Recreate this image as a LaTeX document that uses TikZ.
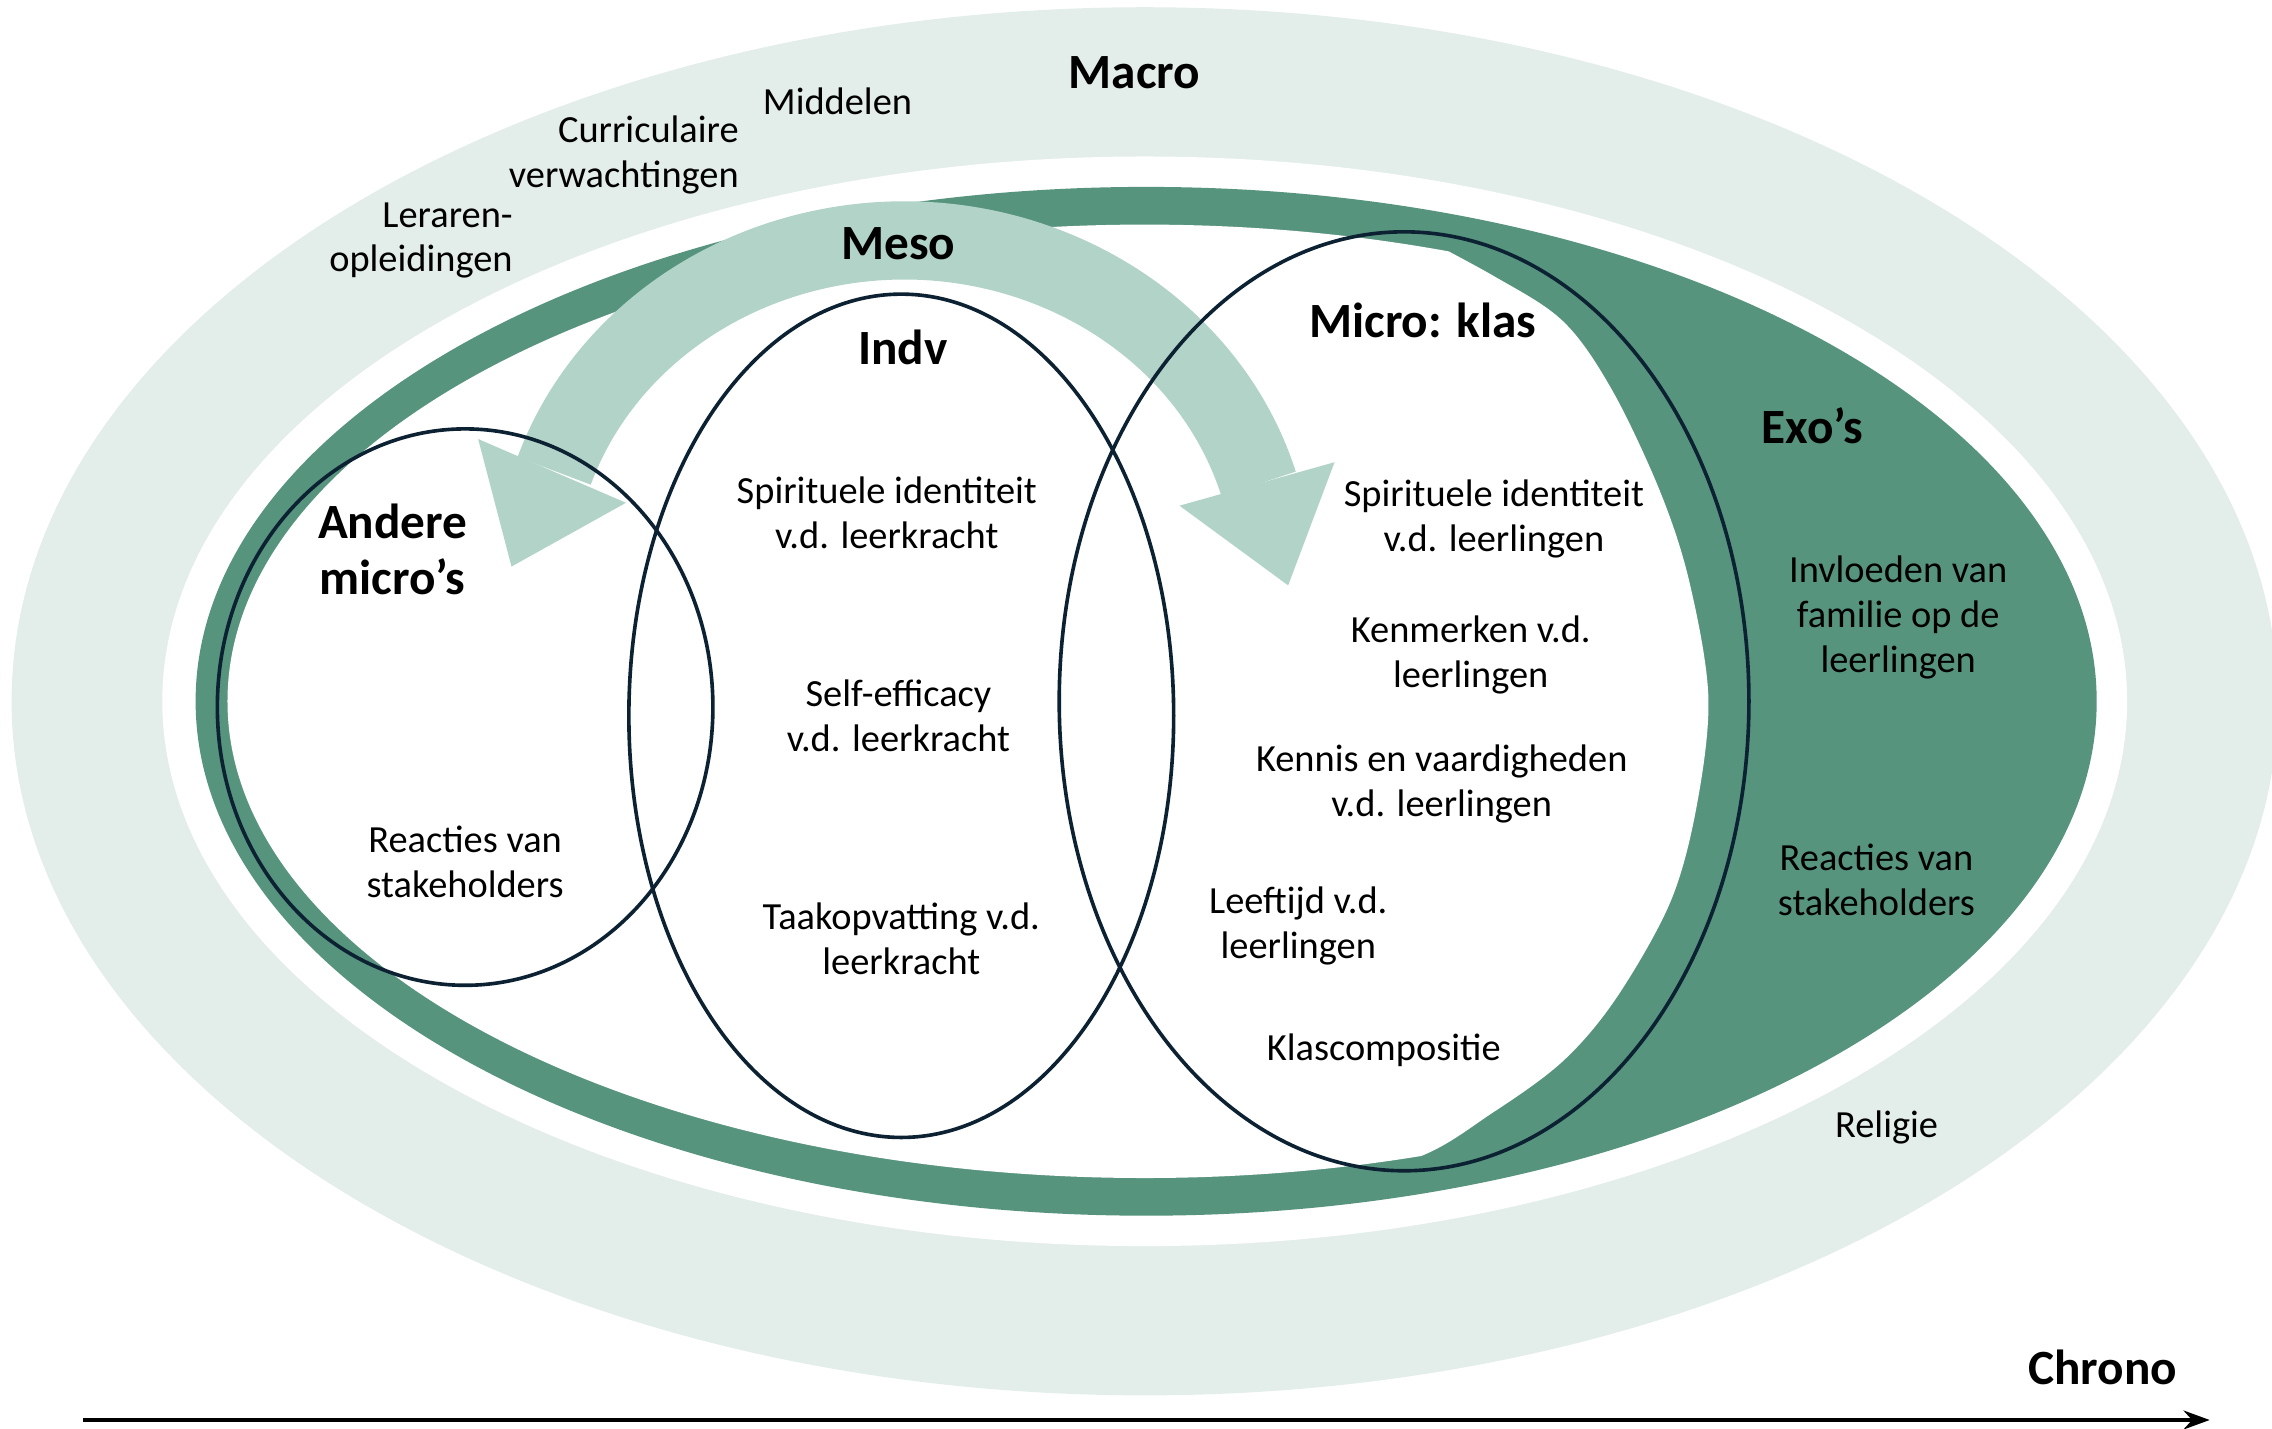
\documentclass[tikz,border=0pt]{standalone}
\usepackage{fontspec}
\setmainfont{Carlito}
\usetikzlibrary{arrows.meta}
\definecolor{macrogreen}{RGB}{227,237,233}
\definecolor{mesogreen}{RGB}{178,211,200}
\definecolor{exogreen}{RGB}{87,148,126}
\definecolor{linenavy}{RGB}{12,34,51}

\begin{document}
\begin{tikzpicture}[
                x=1pt, y=1pt,
                outlineellipse/.style={draw=linenavy, line width=2.5pt},
                plaintextnode/.style={align=center, inner sep=0pt, font=\fontsize{26.5}{31}\selectfont},
                boldtextnode/.style={align=center, inner sep=0pt, font=\bfseries\fontsize{34}{39}\selectfont}
                ]
                \useasboundingbox (0,0) rectangle (1568,986);

                %% Rings
                \fill[macrogreen] (790,502) ellipse [x radius=782pt, y radius=479pt];
                \fill[white] (790,502) ellipse [x radius=678pt, y radius=376pt];
                \fill[exogreen] (791,502) ellipse [x radius=656pt, y radius=355pt];
                \begin{scope}
                        \clip (0,0) -- (0,986) -- (955,986) -- plot[smooth, tension=0.55] coordinates {(955,836) (1030,796) (1079,764) (1113,716) (1146,646) (1166,584) (1179,505) (1171,430) (1153,364) (1116,298) (1079,254) (1030,218) (975,186) (880,166)} -- (880,0) -- cycle;
                        \fill[white] (790,502) ellipse [x radius=633pt, y radius=329pt];
                \end{scope}

                %% Meso arrow
                \draw[mesogreen, line width=54pt] (868.6,652.1) arc[start angle=16.4, end angle=161.3, x radius=255pt, y radius=234pt];
                \fill[mesogreen] (353,595) -- (330,683) -- (432,639) -- cycle;
                \fill[mesogreen] (889,582) -- (814,637) -- (921,667) -- cycle;

                %% Micro's
                \draw[outlineellipse] (321,498) ellipse [x radius=171pt, y radius=192pt];
                \draw[outlineellipse] (622,492) ellipse [x radius=188pt, y radius=291pt];
                \draw[outlineellipse] (969,502) ellipse [x radius=238pt, y radius=324pt];

                %% Chrono
                \coordinate (chronostart) at (57,6);
                \coordinate (chronoend) at (1525,6);
                \draw[-{Stealth[length=18pt, width=13pt]}, line width=3pt] (chronostart) -- (chronoend);
                \node[boldtextnode] (chrono) at (1451,42) {Chrono};

                %% Labels
                \node[boldtextnode] (macro) at (783,936) {Macro};
                \node[plaintextnode] (middelen) at (578,916) {Middelen};
                \node[plaintextnode, align=right, anchor=east] (curriculair) at (510,879) {Curriculaire\\verwachtingen};
                \node[plaintextnode, align=right, anchor=east] (lerarenopl) at (354,820) {Leraren-\\opleidingen};
                \node[boldtextnode] (meso) at (620,818) {Meso};
                \node[boldtextnode] (indv) at (623,746) {Indv};
                \node[boldtextnode] (microklas) at (982,765) {Micro: klas};
                \node[boldtextnode] (exos) at (1251,692) {Exo’s};
                \node[boldtextnode] (andere) at (271,607) {Andere\\micro’s};

                \node[plaintextnode] (spirleerkr) at (612,632) {Spirituele identiteit\\v.d. leerkracht};
                \node[plaintextnode] (selfeff) at (620,492) {Self-efficacy\\v.d. leerkracht};
                \node[plaintextnode] (taakopv) at (622,338) {Taakopvatting v.d.\\leerkracht};
                \node[plaintextnode] (reactiesmicro) at (321,391) {Reacties van\\stakeholders};

                \node[plaintextnode] (spirleerl) at (1031,628) {Spirituele identiteit\\v.d. leerlingen};
                \node[plaintextnode] (kenmerken) at (1015,534) {Kenmerken v.d.\\leerlingen};
                \node[plaintextnode] (kennis) at (995,445) {Kennis en vaardigheden\\v.d. leerlingen};
                \node[plaintextnode] (leeftijd) at (896,347) {Leeftijd v.d.\\leerlingen};
                \node[plaintextnode] (klascomp) at (955,261) {Klascompositie};

                \node[plaintextnode] (invloeden) at (1310,560) {Invloeden van\\familie op de\\leerlingen};
                \node[plaintextnode] (reactiesexo) at (1295,379) {Reacties van\\stakeholders};
                \node[plaintextnode] (religie) at (1302,208) {Religie};
\end{tikzpicture}
\end{document}
